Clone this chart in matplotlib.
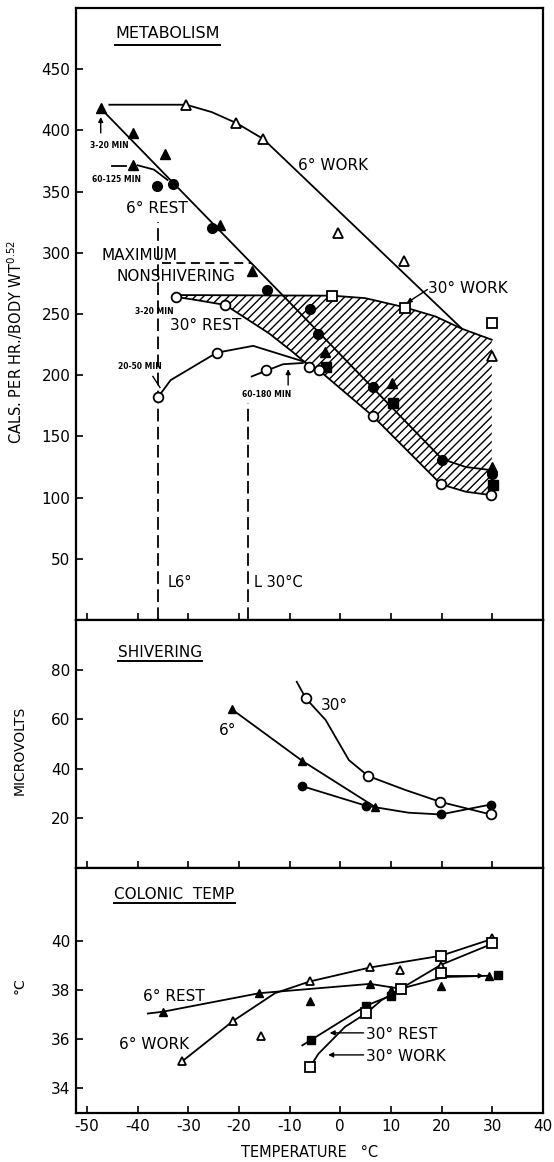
import numpy as np
import matplotlib.pyplot as plt

plt.rcParams['font.family'] = ['DejaVu Sans']
plt.rcParams['axes.unicode_minus'] = False
plt.rcParams['hatch.linewidth'] = 1.0

# ---------------- metabolism (cals / hr / body wt^0.52) ----------------
rest6_tri_x = [-47.3, -40.9, -34.7, -41.0, -23.8, -17.4, -3.0, 10.2, 29.9]
rest6_tri_y = [418, 398, 381, 372, 323, 285, 219, 194, 125]
rest6_dot_x = [-36.1, -33.0, -25.3, -14.4, -6.0, -4.5, 6.5, 20.1, 29.9]
rest6_dot_y = [355, 356, 320, 270, 254, 234, 190, 131, 119]
work6_tri_x = [-30.4, -20.5, -15.2, -0.5, 12.6, 29.9]
work6_tri_y = [421, 406, 393, 316, 293, 216]
work30_sq_x = [-1.6, 12.7, 29.9]
work30_sq_y = [265, 255, 243]
rest30_sq_x = [-2.8, 10.4, 30.1]
rest30_sq_y = [207, 177, 110]
rest30_circ_x = [-32.4, -22.7, -6.1, -4.2, 6.4, 19.9, 29.8, -24.4, -36.0, -14.7]
rest30_circ_y = [264, 257, 207, 204, 167, 111, 102, 218, 182, 204]

# curves
work6_line_x = [-45.6, -30.4, -25.4, -20.5, -15.2, 24.0]
work6_line_y = [421, 421, 415, 406, 393, 238]
rest6_line_x = [-47.3, 20.1, 24.8, 29.8]
rest6_line_y = [418, 131.5, 125, 122.5]
min60_125_x = [-40.0, -36.8, -34.1]
min60_125_y = [371.5, 368, 359.5]
band_top_x = [-32.4, -1.6, 4.9, 12.7, 18.8, 24.0, 29.9]
band_top_y = [265.5, 265, 263, 255.5, 248, 238, 229]
band_low_x = [-32.4, -28.4, -22.7, -14.0, -9.4, -6.1, -4.2, 6.4, 19.9, 24.8, 29.9]
band_low_y = [264, 261.4, 257.4, 234, 219, 207.5, 204, 166.7, 110.8, 104.8, 102]
min20_50_x = [-36.0, -33.5, -24.4, -17.2, -7.1, -6.1]
min20_50_y = [182, 196, 218.4, 224, 211, 207.5]
min60_180_x = [-17.5, -14.7, -11.3, -7.4]
min60_180_y = [199, 203.6, 209, 210]
l6_x, l6_top = -36.0, 325
l30_x, l30_top = -18.3, 177
maxns_x = [-35.3, -17.6]
maxns_y = 292

# ---------------- shivering (microvolts) ----------------
shiv6_tri_x = [-21.4, -7.5, 6.8]
shiv6_tri_y = [64, 43.2, 24.7]
shiv6_dot_x = [-7.5, 5.1, 19.8, 29.7]
shiv6_dot_y = [33, 25.1, 21.6, 25.6]
shiv6_dot_line_x = [-7.5, 5.1, 13.5, 19.8, 29.7]
shiv6_dot_line_y = [33, 25.1, 22.3, 21.6, 25.6]
shiv30_x = [-6.8, 5.5, 19.7, 29.7]
shiv30_y = [68.4, 37.1, 26.7, 21.6]
shiv30_line_x = [-8.6, -6.8, -2.9, 1.7, 5.5, 12.8, 19.7, 29.7]
shiv30_line_y = [75.1, 68.4, 59.7, 43.5, 37.1, 31.5, 26.7, 21.6]

# ---------------- colonic temp (deg C) ----------------
col_rest6_x = [-35.1, -16.0, -6.0, 5.9, 10.0, 19.9, 29.3]
col_rest6_y = [37.13, 37.89, 37.58, 38.27, 38.0, 38.2, 38.6]
col_work6_x = [-31.2, -21.2, -15.7, -6.0, 5.9, 11.7, 19.9, 29.9]
col_work6_y = [35.11, 36.75, 36.13, 38.37, 38.94, 38.82, 38.98, 40.15]
col_rest30_x = [-5.7, 5.1, 10.0, 31.2]
col_rest30_y = [35.99, 37.38, 37.79, 38.64]
col_work30_x = [-6.0, 5.1, 11.9, 19.9, 19.9, 29.9]
col_work30_y = [34.87, 37.07, 38.07, 39.42, 38.71, 39.93]
col_rest6_line_x = [-38.0, -35.1, -16.0, 5.9, 11.9, 20.5, 29.3]
col_rest6_line_y = [37.06, 37.13, 37.89, 38.27, 38.07, 38.55, 38.6]
col_work6_line_x = [-31.2, -21.2, -12.9, -6.0, 5.9, 19.9, 29.9]
col_work6_line_y = [35.11, 36.75, 37.89, 38.37, 38.94, 39.42, 40.1]
col_rest30_line_x = [-7.5, -5.7, 5.1, 10.0, 11.9]
col_rest30_line_y = [35.76, 35.99, 37.38, 37.79, 38.07]
col_work30_line_x = [-6.0, -4.3, 0.9, 5.1, 8.1, 11.9, 19.9, 29.9]
col_work30_line_y = [34.87, 35.42, 36.51, 37.07, 37.6, 38.07, 39.05, 39.9]

x_ticks = [-50, -40, -30, -20, -10, 0, 10, 20, 30, 40]

K = 'black'
LW = 1.3
fig = plt.figure(figsize=(5.54, 11.62), dpi=100)
ax1 = fig.add_axes([0.137, 0.4664, 0.843, 0.5267])
ax2 = fig.add_axes([0.137, 0.2530, 0.843, 0.2134])
ax3 = fig.add_axes([0.137, 0.0422, 0.843, 0.2108])

for ax in (ax1, ax2, ax3):
    ax.set_xlim(-52.2, 40)
    ax.set_xticks(x_ticks)
    ax.tick_params(direction='in', length=5, width=1.2, labelsize=11, pad=4)
    for s in ax.spines.values():
        s.set_linewidth(1.6)
for ax in (ax1, ax2):
    ax.tick_params(axis='x', labelbottom=False)

def filled(ax, x, y, m, ms):
    ax.plot(x, y, ls='none', marker=m, ms=ms, color=K, zorder=4)

def hollow(ax, x, y, m, ms):
    ax.plot(x, y, ls='none', marker=m, ms=ms, mfc='white', mec=K, mew=1.3, zorder=4)

def underline(ax, t):
    fig.canvas.draw()
    bb = t.get_window_extent().transformed(ax.transAxes.inverted())
    ax.plot([bb.x0, bb.x1], [bb.y0 - 0.006, bb.y0 - 0.006], transform=ax.transAxes,
            color=K, lw=1.4)

# ---- metabolism ----
ax1.set_ylim(0, 500)
ax1.set_yticks([50, 100, 150, 200, 250, 300, 350, 400, 450])
poly_x = np.concatenate([band_top_x, band_low_x[::-1]])
poly_y = np.concatenate([band_top_y, band_low_y[::-1]])
ax1.fill(poly_x, poly_y, facecolor='none', edgecolor=K, lw=0, hatch='////', zorder=1)
ax1.plot(band_top_x, band_top_y, color=K, lw=LW, zorder=2)
ax1.plot(band_low_x, band_low_y, color=K, lw=LW, zorder=2)
ax1.plot(work6_line_x, work6_line_y, color=K, lw=LW, zorder=2)
ax1.plot(rest6_line_x, rest6_line_y, color=K, lw=LW, zorder=2)
ax1.plot(min60_125_x, min60_125_y, color=K, lw=LW, zorder=2)
ax1.plot([-45.0, -42.3], [371, 371], color=K, lw=LW, zorder=2)
ax1.plot(min20_50_x, min20_50_y, color=K, lw=LW, zorder=2)
ax1.plot(min60_180_x, min60_180_y, color=K, lw=LW, zorder=2)
ax1.plot([l6_x, l6_x], [0, l6_top], color=K, lw=1.3, ls=(0, (7, 3)))
ax1.plot([l30_x, l30_x], [0, l30_top], color=K, lw=1.3, ls=(0, (7, 3)))
ax1.plot(maxns_x, [maxns_y, maxns_y], color=K, lw=1.3, ls=(0, (5, 3)))
ax1.plot([-37.0, -35.6], [199, 190], color=K, lw=1.0)

filled(ax1, rest6_tri_x, rest6_tri_y, '^', 7)
filled(ax1, rest6_dot_x, rest6_dot_y, 'o', 7)
filled(ax1, rest30_sq_x, rest30_sq_y, 's', 6.5)
hollow(ax1, work6_tri_x, work6_tri_y, '^', 7)
hollow(ax1, work30_sq_x, work30_sq_y, 's', 7)
hollow(ax1, rest30_circ_x, rest30_circ_y, 'o', 7)

arw = dict(arrowstyle='-|>', color=K, lw=1.0, mutation_scale=7, shrinkA=0, shrinkB=0)
ax1.annotate('', xy=(-47.3, 411), xytext=(-47.3, 398), arrowprops=arw)
ax1.annotate('', xy=(-10.3, 205), xytext=(-10.3, 192), arrowprops=arw)
ax1.annotate('', xy=(13.1, 259), xytext=(17.2, 270), arrowprops=arw)

t = ax1.text(-44.4, 479, 'METABOLISM', fontsize=11.5, va='center')
underline(ax1, t)
ax1.text(-8.3, 371, '6° WORK', fontsize=11, va='center')
ax1.text(-36.2, 336, '6° REST', fontsize=11, va='center', ha='center')
ax1.text(-47.1, 298, 'MAXIMUM', fontsize=11, va='center')
ax1.text(-44.1, 281, 'NONSHIVERING', fontsize=11, va='center')
ax1.text(17.3, 271, '30° WORK', fontsize=11, va='center')
ax1.text(-33.6, 241, '30° REST', fontsize=11, va='center')
small = dict(fontsize=5.5, fontweight='bold', va='center', ha='center')
ax1.text(-45.6, 388, '3-20 MIN', **small)
ax1.text(-44.1, 359.5, '60-125 MIN', **small)
ax1.text(-36.8, 252, '3-20 MIN', **small)
ax1.text(-39.5, 207, '20-50 MIN', **small)
ax1.text(-14.6, 184, '60-180 MIN', **small)
ax1.text(-34.0, 31, 'L6°', fontsize=10.5, va='center')
ax1.text(-17.0, 31, 'L 30°C', fontsize=10.5, va='center')
ax1.set_ylabel('CALS. PER HR./BODY WT$^{0.52}$', fontsize=10.5)
ax1.yaxis.set_label_coords(-0.108, 0.454)

# ---- shivering ----
ax2.set_ylim(0, 100)
ax2.set_yticks([20, 40, 60, 80])
ax2.plot(shiv6_tri_x, shiv6_tri_y, color=K, lw=LW)
ax2.plot(shiv6_dot_line_x, shiv6_dot_line_y, color=K, lw=LW)
ax2.plot(shiv30_line_x, shiv30_line_y, color=K, lw=LW)
filled(ax2, shiv6_tri_x, shiv6_tri_y, '^', 6)
filled(ax2, shiv6_dot_x, shiv6_dot_y, 'o', 6)
hollow(ax2, shiv30_x, shiv30_y, 'o', 7)
t = ax2.text(-43.9, 87, 'SHIVERING', fontsize=11, va='center')
underline(ax2, t)
ax2.text(-3.8, 65.7, '30°', fontsize=11, va='center')
ax2.text(-24.0, 55.6, '6°', fontsize=11, va='center')
ax2.set_ylabel('MICROVOLTS', fontsize=10)
ax2.yaxis.set_label_coords(-0.106, 0.476)

# ---- colonic temp ----
ax3.set_ylim(33, 43)
ax3.set_yticks([34, 36, 38, 40])
ax3.set_xticklabels([str(v) for v in x_ticks])
ax3.plot(col_rest6_line_x, col_rest6_line_y, color=K, lw=LW)
ax3.plot(col_work6_line_x, col_work6_line_y, color=K, lw=LW)
ax3.plot(col_rest30_line_x, col_rest30_line_y, color=K, lw=LW)
ax3.plot(col_work30_line_x, col_work30_line_y, color=K, lw=LW)
filled(ax3, col_rest6_x, col_rest6_y, '^', 6)
filled(ax3, col_rest30_x, col_rest30_y, 's', 6)
hollow(ax3, col_work6_x, col_work6_y, '^', 6)
hollow(ax3, col_work30_x, col_work30_y, 's', 6.5)
t = ax3.text(-44.6, 41.93, 'COLONIC  TEMP', fontsize=11, va='center')
underline(ax3, t)
ax3.text(-39.0, 37.75, '6° REST', fontsize=11, va='center')
ax3.text(-43.6, 35.8, '6° WORK', fontsize=11, va='center')
ax3.text(5.1, 36.2, '30° REST', fontsize=11, va='center')
ax3.text(5.1, 35.3, '30° WORK', fontsize=11, va='center')
ax3.annotate('', xy=(-2.1, 36.27), xytext=(4.6, 36.27), arrowprops=arw)
ax3.annotate('', xy=(-2.4, 35.37), xytext=(4.6, 35.37), arrowprops=arw)
ax3.annotate('', xy=(28.3, 38.6), xytext=(21.0, 38.6), arrowprops=arw)
ax3.set_ylabel('°C', fontsize=10)
ax3.yaxis.set_label_coords(-0.106, 0.52)
ax3.set_xlabel('TEMPERATURE   °C', fontsize=10.5, labelpad=8)

fig.savefig('out.png', dpi=100)
